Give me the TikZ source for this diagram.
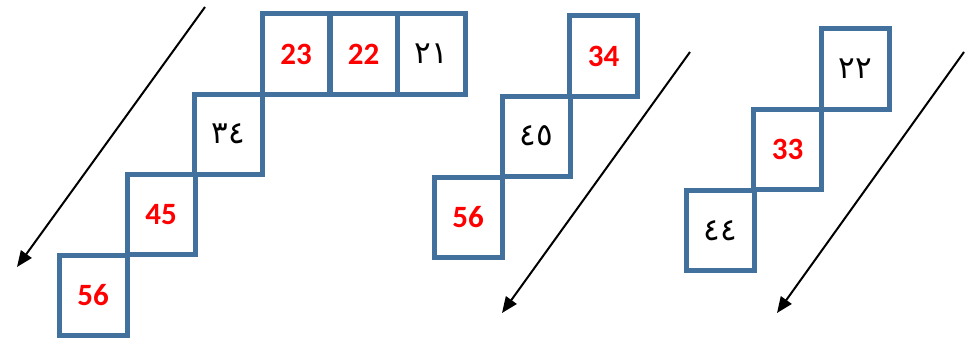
\documentclass[tikz,border=0pt]{standalone}
\usepackage{fontspec}
\setmainfont{Carlito}
\newfontfamily\arabicfont[Script=Arabic]{DejaVu Sans}
\usetikzlibrary{arrows.meta}
\definecolor{boxblue}{HTML}{41719C}
\definecolor{numred}{HTML}{FF0000}
\begin{document}
\begin{tikzpicture}[x=1pt,y=-1pt,
  cell/.style={draw=boxblue,line width=5pt,minimum width=68pt,minimum height=80pt,inner sep=0pt,outer sep=0pt},
  rednum/.style={text=numred,font=\fontsize{31}{31}\selectfont\bfseries},
  arnum/.style={font=\fontsize{31}{31}\selectfont\arabicfont},
  diag/.style={line width=2pt,-{Triangle[length=16pt,width=13pt]}}]
\useasboundingbox (0,0) rectangle (976,337);
% group 1
\node[cell,rednum] (a56) at (93,295) {56};
\node[cell,rednum] (a45) at (161,214.5) {45};
\node[cell,arnum] (a34) at (228.5,134) {٣٤};
\node[cell,rednum] (a23) at (296,54) {23};
\node[cell,rednum] (a22) at (363.5,54) {22};
\node[cell,arnum] (a21) at (431.5,54) {٢١};
% group 2
\node[cell,rednum] (b56) at (468,217) {56};
\node[cell,arnum] (b45) at (536,136) {٤٥};
\node[cell,rednum] (b34) at (603.5,56) {34};
% group 3
\node[cell,arnum] (c44) at (720,230.5) {٤٤};
\node[cell,rednum] (c33) at (787.5,149.5) {33};
\node[cell,arnum] (c22) at (855,69) {٢٢};
% arrows
\coordinate (s1) at (205,7);
\coordinate (e1) at (17,267);
\coordinate (s2) at (690,52);
\coordinate (e2) at (502,313);
\coordinate (s3) at (964,52);
\coordinate (e3) at (777,313);
\draw[diag] (s1) -- (e1);
\draw[diag] (s2) -- (e2);
\draw[diag] (s3) -- (e3);
\end{tikzpicture}
\end{document}
